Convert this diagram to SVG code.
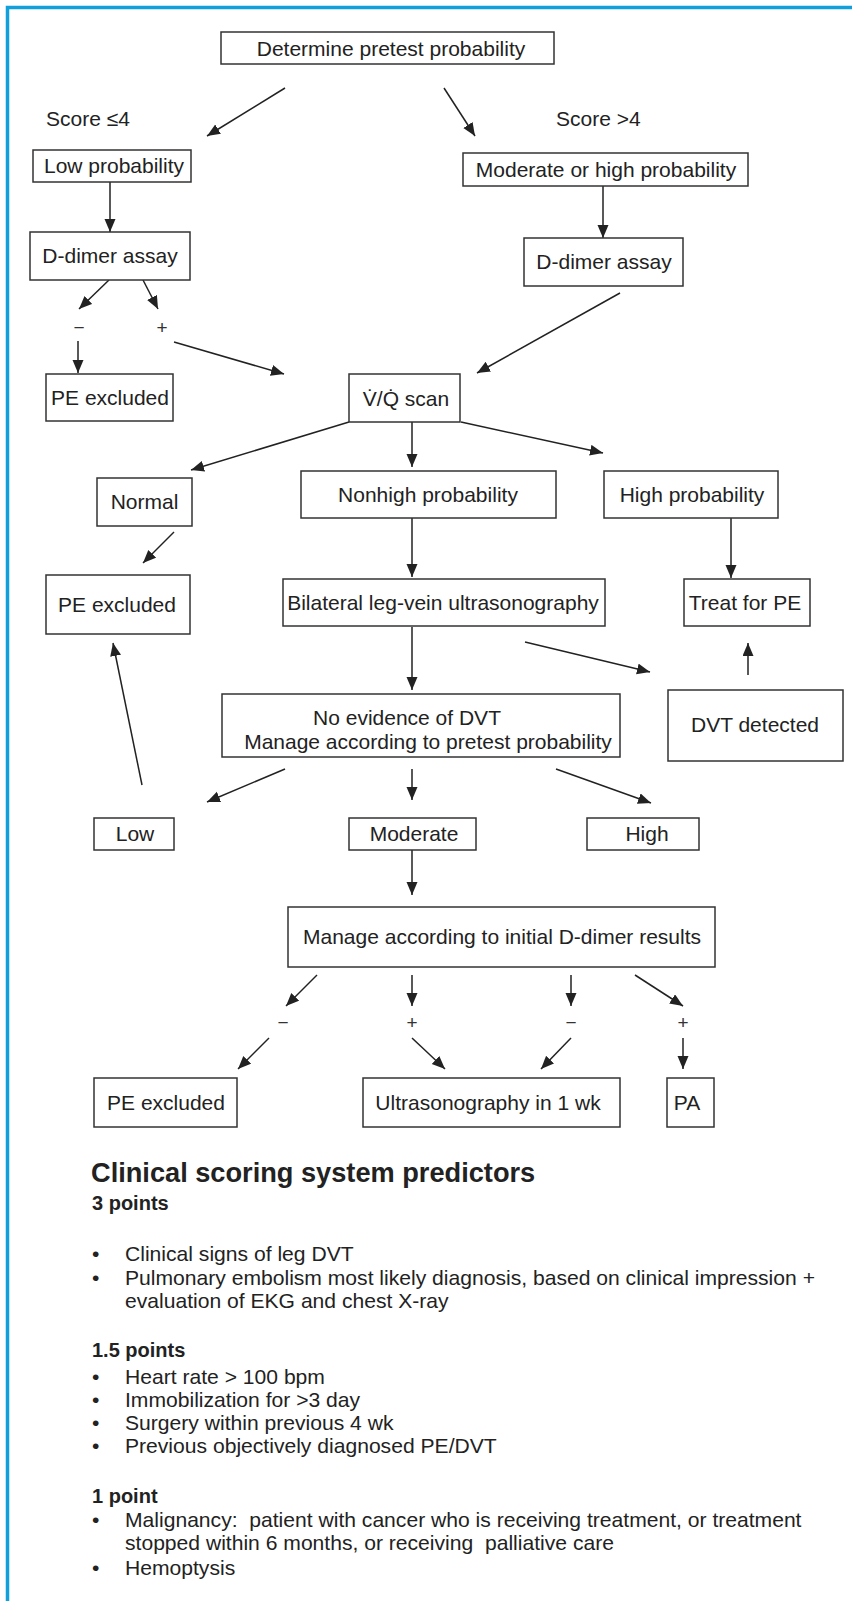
<svg xmlns="http://www.w3.org/2000/svg" width="852" height="1601" viewBox="0 0 852 1601">
  <style>
    text { font-family: "Liberation Sans", Arial, sans-serif; fill: #222; }
    .n { font-size: 21px; text-anchor: middle; }
    .lbl { font-size: 21px; }
    .sign { font-size: 19px; text-anchor: middle; fill: #333; }
    .box { fill: #fff; stroke: #333; stroke-width: 1.5; }
    .edge { stroke: #222; stroke-width: 1.5; fill: none; marker-end: url(#head); }
    .title { font-size: 27.2px; font-weight: bold; }
    .sub { font-size: 20px; font-weight: bold; }
    .item { font-size: 21.1px; white-space: pre; }
    .frame { fill: none; stroke: #12a0dc; stroke-width: 3.5; }
  </style>
  <defs>
    <marker id="head" markerUnits="userSpaceOnUse" markerWidth="14" markerHeight="12" refX="13" refY="5.5" orient="auto">
      <path d="M0,0 L13,5.5 L0,11 z" fill="#222"/>
    </marker>
  </defs>

  <rect x="0" y="0" width="852" height="1601" fill="#fff"/>
  <path class="frame" d="M7.5,1601 V7.5 H852"/>

  <!-- connectors -->
  <g id="connectors">
    <line class="edge" x1="285" y1="88" x2="207" y2="136"/>
    <line class="edge" x1="444" y1="88" x2="475" y2="136"/>
    <line class="edge" x1="110" y1="182" x2="110" y2="232"/>
    <line class="edge" x1="603" y1="186" x2="603" y2="238"/>
    <line class="edge" x1="109" y1="280" x2="79" y2="309"/>
    <line class="edge" x1="143" y1="280" x2="158" y2="309"/>
    <line class="edge" x1="78" y1="341" x2="78" y2="373"/>
    <line class="edge" x1="174" y1="342" x2="284" y2="374"/>
    <line class="edge" x1="620" y1="293" x2="477" y2="373"/>
    <line class="edge" x1="349" y1="422" x2="191" y2="470"/>
    <line class="edge" x1="412" y1="422" x2="412" y2="467"/>
    <line class="edge" x1="461" y1="422" x2="603" y2="453"/>
    <line class="edge" x1="174" y1="532" x2="143" y2="563"/>
    <line class="edge" x1="412" y1="518" x2="412" y2="577"/>
    <line class="edge" x1="731" y1="518" x2="731" y2="578"/>
    <line class="edge" x1="525" y1="642" x2="650" y2="672"/>
    <line class="edge" x1="748" y1="675" x2="748" y2="643"/>
    <line class="edge" x1="142" y1="785" x2="113" y2="643"/>
    <line class="edge" x1="412" y1="627" x2="412" y2="690"/>
    <line class="edge" x1="285" y1="769" x2="207" y2="802"/>
    <line class="edge" x1="412" y1="769" x2="412" y2="800"/>
    <line class="edge" x1="556" y1="769" x2="651" y2="803"/>
    <line class="edge" x1="412" y1="850" x2="412" y2="895"/>
    <line class="edge" x1="317" y1="975" x2="286" y2="1006"/>
    <line class="edge" x1="412" y1="975" x2="412" y2="1006"/>
    <line class="edge" x1="571" y1="975" x2="571" y2="1006"/>
    <line class="edge" x1="635" y1="975" x2="683" y2="1006"/>
    <line class="edge" x1="269" y1="1038" x2="238" y2="1069"/>
    <line class="edge" x1="412" y1="1038" x2="445" y2="1069"/>
    <line class="edge" x1="571" y1="1038" x2="541" y2="1069"/>
    <line class="edge" x1="683" y1="1038" x2="683" y2="1069"/>
  </g>

  <!-- branch labels -->
  <g id="labels">
    <text class="lbl" x="46" y="126">Score ≤4</text>
    <text class="lbl" x="556" y="126">Score &gt;4</text>
    <text class="sign" x="79" y="334">−</text>
    <text class="sign" x="162" y="334">+</text>
    <text class="sign" x="283" y="1029">−</text>
    <text class="sign" x="412" y="1029">+</text>
    <text class="sign" x="571" y="1029">−</text>
    <text class="sign" x="683" y="1029">+</text>
  </g>

  <!-- nodes -->
  <g id="pretest">
    <rect class="box" x="221" y="32" width="333" height="32"/>
    <text class="n" x="391" y="55.5">Determine pretest probability</text>
  </g>
  <g id="low-prob">
    <rect class="box" x="33" y="150" width="158" height="32"/>
    <text class="n" x="114" y="173">Low probability</text>
  </g>
  <g id="modhigh-prob">
    <rect class="box" x="463" y="153" width="285" height="33"/>
    <text class="n" x="606" y="177">Moderate or high probability</text>
  </g>
  <g id="ddimer-left">
    <rect class="box" x="30" y="232" width="160" height="48"/>
    <text class="n" x="110" y="263">D-dimer assay</text>
  </g>
  <g id="ddimer-right">
    <rect class="box" x="524" y="238" width="159" height="48"/>
    <text class="n" x="604" y="269">D-dimer assay</text>
  </g>
  <g id="excluded-1">
    <rect class="box" x="46" y="374" width="127" height="47"/>
    <text class="n" x="110" y="405">PE excluded</text>
  </g>
  <g id="vq-scan">
    <rect class="box" x="349" y="374" width="111" height="48"/>
    <text class="n" x="406" y="406">V̇/Q̇ scan</text>
  </g>
  <g id="normal">
    <rect class="box" x="97" y="478" width="95" height="48"/>
    <text class="n" x="144.5" y="509">Normal</text>
  </g>
  <g id="nonhigh">
    <rect class="box" x="301" y="471" width="255" height="47"/>
    <text class="n" x="428" y="502">Nonhigh probability</text>
  </g>
  <g id="high-prob">
    <rect class="box" x="604" y="471" width="174" height="47"/>
    <text class="n" x="692" y="502">High probability</text>
  </g>
  <g id="excluded-2">
    <rect class="box" x="46" y="575" width="144" height="59"/>
    <text class="n" x="117" y="612">PE excluded</text>
  </g>
  <g id="ultrasound">
    <rect class="box" x="283" y="579" width="322" height="47"/>
    <text class="n" x="443" y="610">Bilateral leg-vein ultrasonography</text>
  </g>
  <g id="treat">
    <rect class="box" x="684" y="579" width="126" height="47"/>
    <text class="n" x="745" y="610">Treat for PE</text>
  </g>
  <g id="no-dvt">
    <rect class="box" x="222" y="694" width="398" height="63"/>
    <text class="n" x="407" y="725">No evidence of DVT</text>
    <text class="n" x="428" y="749">Manage according to pretest probability</text>
  </g>
  <g id="dvt-detected">
    <rect class="box" x="668" y="690" width="175" height="71"/>
    <text class="n" x="755" y="732">DVT detected</text>
  </g>
  <g id="low">
    <rect class="box" x="94" y="818" width="80" height="32"/>
    <text class="n" x="135" y="841">Low</text>
  </g>
  <g id="moderate">
    <rect class="box" x="349" y="818" width="127" height="32"/>
    <text class="n" x="414" y="841">Moderate</text>
  </g>
  <g id="high">
    <rect class="box" x="587" y="818" width="112" height="32"/>
    <text class="n" x="647" y="841">High</text>
  </g>
  <g id="initial-ddimer">
    <rect class="box" x="288" y="907" width="427" height="60"/>
    <text class="n" x="502" y="944">Manage according to initial D-dimer results</text>
  </g>
  <g id="excluded-3">
    <rect class="box" x="94" y="1078" width="143" height="49"/>
    <text class="n" x="166" y="1110">PE excluded</text>
  </g>
  <g id="repeat-us">
    <rect class="box" x="363" y="1078" width="257" height="49"/>
    <text class="n" x="488" y="1110">Ultrasonography in 1 wk</text>
  </g>
  <g id="pa">
    <rect class="box" x="667" y="1078" width="47" height="49"/>
    <text class="n" x="687" y="1110">PA</text>
  </g>

  <!-- scoring legend -->
  <g id="legend">
    <text class="title" x="91" y="1182">Clinical scoring system predictors</text>
    <text class="sub" x="92" y="1210">3 points</text>
    <text class="item" x="92" y="1261">•</text><text class="item" x="125" y="1261">Clinical signs of leg DVT</text>
    <text class="item" x="92" y="1285">•</text><text class="item" x="125" y="1285">Pulmonary embolism most likely diagnosis, based on clinical impression +</text>
    <text class="item" x="125" y="1308">evaluation of EKG and chest X-ray</text>
    <text class="sub" x="92" y="1357">1.5 points</text>
    <text class="item" x="92" y="1384">•</text><text class="item" x="125" y="1384">Heart rate &gt; 100 bpm</text>
    <text class="item" x="92" y="1407">•</text><text class="item" x="125" y="1407">Immobilization for &gt;3 day</text>
    <text class="item" x="92" y="1430">•</text><text class="item" x="125" y="1430">Surgery within previous 4 wk</text>
    <text class="item" x="92" y="1453">•</text><text class="item" x="125" y="1453">Previous objectively diagnosed PE/DVT</text>
    <text class="sub" x="92" y="1503">1 point</text>
    <text class="item" x="92" y="1527">•</text><text class="item" x="125" y="1527">Malignancy:  patient with cancer who is receiving treatment, or treatment</text>
    <text class="item" x="125" y="1550">stopped within 6 months, or receiving  palliative care</text>
    <text class="item" x="92" y="1575">•</text><text class="item" x="125" y="1575">Hemoptysis</text>
  </g>
</svg>
